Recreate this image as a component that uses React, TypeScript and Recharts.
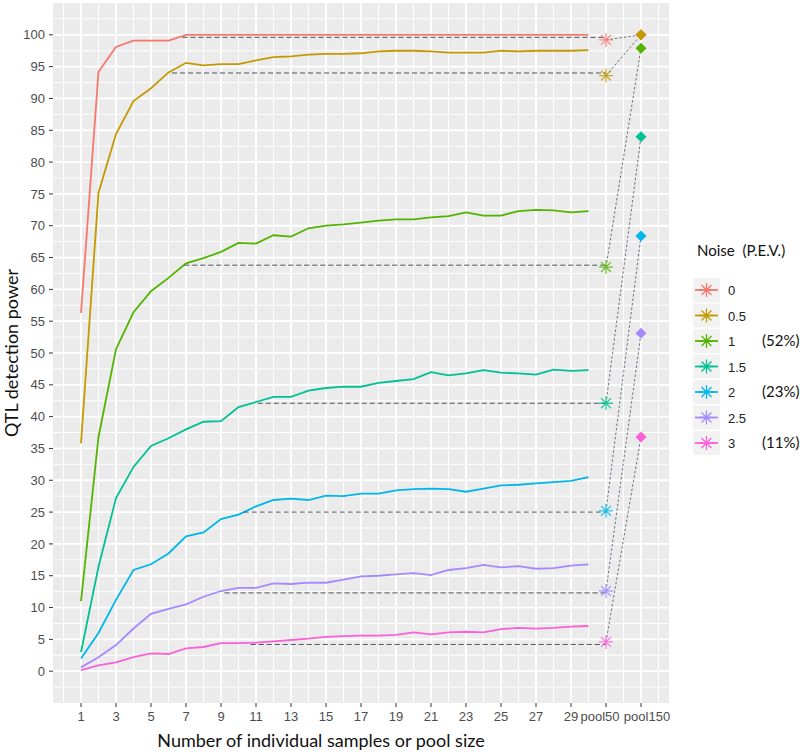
import {
  ComposedChart,
  Line,
  Scatter,
  XAxis,
  YAxis,
  CartesianGrid,
  ReferenceLine,
} from "recharts";

// sample size (number of individuals / pool size) on the x axis
const sampleSizes = [
  1, 2, 3, 4, 5, 6, 7, 8, 9, 10, 11, 12, 13, 14, 15, 16, 17, 18, 19, 20, 21,
  22, 23, 24, 25, 26, 27, 28, 29, 30,
];

const noiseLevels = ["0", "0.5", "1", "1.5", "2", "2.5", "3"];
const pevLabels = ["", "", "(52%)", "", "(23%)", "", "(11%)"];
const colors = ["#F8766D", "#C49A00", "#53B400", "#00C094", "#00B6EB", "#A58AFF", "#FB61D7"];

// QTL detection power per noise level
const power0 = [
  56.3, 94.2, 98.1, 99.1, 99.1, 99.1, 100, 100, 100, 100, 100, 100, 100, 100, 100,
  100, 100, 100, 100, 100, 100, 100, 100, 100, 100, 100, 100, 100, 100, 100,
];
const power05 = [
  35.8, 75.2, 84.4, 89.6, 91.6, 94.1, 95.6, 95.2, 95.4, 95.4, 96.0, 96.5, 96.6, 96.9, 97.0,
  97.0, 97.1, 97.4, 97.5, 97.5, 97.4, 97.2, 97.2, 97.2, 97.5, 97.4, 97.5, 97.5, 97.5, 97.6,
];
const power1 = [
  11.0, 36.8, 50.6, 56.4, 59.7, 61.8, 64.1, 64.9, 65.9, 67.3, 67.2, 68.5, 68.3, 69.6, 70.0,
  70.2, 70.5, 70.8, 71.0, 71.0, 71.3, 71.5, 72.1, 71.6, 71.6, 72.3, 72.5, 72.4, 72.1, 72.3,
];
const power15 = [
  3.0, 16.4, 27.2, 32.1, 35.4, 36.6, 38.0, 39.2, 39.3, 41.5, 42.3, 43.1, 43.1, 44.1, 44.5,
  44.7, 44.7, 45.3, 45.6, 45.9, 47.0, 46.5, 46.8, 47.3, 46.9, 46.8, 46.6, 47.4, 47.2, 47.3,
];
const power2 = [
  2.0, 6.0, 11.2, 15.9, 16.8, 18.5, 21.2, 21.8, 23.9, 24.6, 25.9, 26.9, 27.1, 26.9, 27.6,
  27.5, 27.9, 27.9, 28.4, 28.6, 28.7, 28.6, 28.2, 28.7, 29.2, 29.3, 29.5, 29.7, 29.9, 30.5,
];
const power25 = [
  0.6, 2.2, 4.1, 6.7, 9.0, 9.8, 10.5, 11.7, 12.6, 13.1, 13.1, 13.8, 13.7, 13.9, 13.9,
  14.4, 14.9, 15.0, 15.2, 15.4, 15.1, 15.9, 16.2, 16.7, 16.3, 16.5, 16.1, 16.2, 16.6, 16.8,
];
const power3 = [
  0.15, 0.9, 1.4, 2.2, 2.8, 2.7, 3.6, 3.8, 4.4, 4.4, 4.5, 4.7, 4.9, 5.1, 5.4,
  5.5, 5.6, 5.6, 5.7, 6.1, 5.8, 6.1, 6.2, 6.1, 6.6, 6.8, 6.7, 6.8, 7.0, 7.1,
];

// pooled designs
const pool50 = [99.2, 93.6, 63.5, 42.1, 25.2, 12.6, 4.6];
const pool150 = [100, 100, 97.9, 84.0, 68.4, 53.1, 36.8];
// where the individual curve reaches the pool50 power
const matchLevel = [99.6, 94.0, 63.8, 42.1, 25.0, 12.3, 4.2];
const matchSize = [6.8, 6.2, 6.9, 11.1, 10.3, 9.2, 10.7];

const POOL50_X = 31;
const POOL150_X = 33;

const xTicks = [1, 3, 5, 7, 9, 11, 13, 15, 17, 19, 21, 23, 25, 27, 29, 31, 33];
const xTickLabels = [
  "1", "3", "5", "7", "9", "11", "13", "15", "17", "19", "21", "23", "25", "27", "29",
  "pool50", "pool150",
];
const xMinor = [0, 2, 4, 6, 8, 10, 12, 14, 16, 18, 20, 22, 24, 26, 28, 30, 32, 34];
const yTicks = [0, 5, 10, 15, 20, 25, 30, 35, 40, 45, 50, 55, 60, 65, 70, 75, 80, 85, 90, 95, 100];
const yMinor = [
  -2.5, 2.5, 7.5, 12.5, 17.5, 22.5, 27.5, 32.5, 37.5, 42.5, 47.5, 52.5, 57.5, 62.5, 67.5,
  72.5, 77.5, 82.5, 87.5, 92.5, 97.5, 102.5,
];

const series = [power0, power05, power1, power15, power2, power25, power3];
const keys = ["s0", "s05", "s1", "s15", "s2", "s25", "s3"];

const rows = sampleSizes.map((x, i) => {
  const r: Record<string, number> = { x };
  keys.forEach((k, j) => (r[k] = series[j][i]));
  return r;
});

const starData = pool50.map((y, i) => ({ x: POOL50_X, y, idx: i }));
const diamondData = pool150.map((y, i) => ({ x: POOL150_X, y, idx: i }));

const tickFont = "Liberation Sans, Arial, sans-serif";
const tickStyle = { fill: "#4D4D4D", fontSize: 13, fontFamily: tickFont };
const titleFont = "Lato, 'Open Sans', sans-serif";

function starPath(cx: number, cy: number, r: number) {
  const d = r * 0.7071;
  return `M${cx - r},${cy}L${cx + r},${cy}M${cx},${cy - r}L${cx},${cy + r}` +
    `M${cx - d},${cy - d}L${cx + d},${cy + d}M${cx - d},${cy + d}L${cx + d},${cy - d}`;
}

const StarShape = (props: any) => {
  const { cx, cy, payload } = props;
  return (
    <path d={starPath(cx, cy, 7)} stroke={colors[payload.idx]} strokeWidth={1.3} strokeOpacity={0.8} fill="none" />
  );
};

const DiamondShape = (props: any) => {
  const { cx, cy, payload } = props;
  const r = 5.5;
  return (
    <polygon
      points={`${cx},${cy - r} ${cx + r},${cy} ${cx},${cy + r} ${cx - r},${cy}`}
      fill={colors[payload.idx]}
    />
  );
};

// the last labels sit a bit apart so they don't run into each other
const XTick = (props: any) => {
  const { x, y, payload } = props;
  const i = xTicks.indexOf(payload.value);
  const label = xTickLabels[i];
  const nudge = label === "pool50" ? -6 : label === "pool150" ? 6 : 0;
  return (
    <text x={x + nudge} y={y} dy="0.71em" textAnchor="middle" fill="#4D4D4D" fontSize={13} fontFamily={tickFont}>
      {label}
    </text>
  );
};

export default function App() {
  return (
    <div style={{ position: "absolute", left: 0, top: 0, width: 800, height: 754, background: "#fff" }}>
      <ComposedChart width={800} height={754} data={rows} margin={{ top: 3, right: 131, bottom: 0, left: 0 }}>
        <CartesianGrid fill="#EBEBEB" stroke="#fff" strokeWidth={0.9} horizontalValues={yMinor} verticalValues={xMinor} />
        <CartesianGrid stroke="#fff" strokeWidth={1.8} horizontalValues={yTicks} verticalValues={xTicks} />
        <XAxis
          type="number"
          dataKey="x"
          domain={[-0.6, 34.6]}
          ticks={xTicks}
          interval={0}
          axisLine={false}
          tickLine={{ stroke: "#333" }}
          tickSize={4}
          tickMargin={5}
          height={51}
          tick={<XTick />}
        />
        <YAxis
          type="number"
          domain={[-5, 105]}
          ticks={yTicks}
          interval={0}
          axisLine={false}
          tickLine={{ stroke: "#333" }}
          tickSize={4}
          tickMargin={4}
          width={53}
          tick={tickStyle}
        />
        {keys.map((k, i) => (
          <Line
            key={k}
            dataKey={k}
            stroke={colors[i]}
            strokeWidth={1.8}
            dot={false}
            activeDot={false}
            isAnimationActive={false}
          />
        ))}
        {pool50.map((v, i) => (
          <ReferenceLine
            key={"h" + i}
            segment={[
              { x: matchSize[i], y: matchLevel[i] },
              { x: POOL50_X, y: matchLevel[i] },
            ]}
            stroke="#4A5260"
            strokeWidth={1}
            strokeDasharray="5 3"
          />
        ))}
        {pool50.map((v, i) => (
          <ReferenceLine
            key={"s" + i}
            segment={[
              { x: POOL50_X, y: v },
              { x: POOL150_X, y: pool150[i] },
            ]}
            stroke="#4A5260"
            strokeWidth={0.8}
            strokeDasharray="2.5 2"
          />
        ))}
        <Scatter data={starData} dataKey="y" shape={StarShape} isAnimationActive={false} />
        <Scatter data={diamondData} dataKey="y" shape={DiamondShape} isAnimationActive={false} />
      </ComposedChart>

      <svg width={800} height={754} style={{ position: "absolute", left: 0, top: 0, pointerEvents: "none" }}>
        <text
          x={0}
          y={0}
          transform="translate(18,353) rotate(-90)"
          textAnchor="middle"
          fontFamily={titleFont}
          fontSize={18}
          fill="#111"
        >
          QTL detection power
        </text>
        <text x={321} y={747} textAnchor="middle" fontFamily={titleFont} fontSize={18} fill="#111">
          Number of individual samples or pool size
        </text>

        <text x={697} y={256} fontFamily={titleFont} fontSize={15} fill="#111" xmlSpace="preserve">
          Noise  (P.E.V.)
        </text>
        {noiseLevels.map((lab, i) => {
          const cy = 290 + i * 25.5;
          return (
            <g key={lab}>
              <rect x={693} y={cy - 12} width={27} height={24} fill="#F2F2F2" />
              <line x1={695} x2={718} y1={cy} y2={cy} stroke={colors[i]} strokeWidth={1.8} />
              <path d={starPath(706.5, cy, 7)} stroke={colors[i]} strokeWidth={1.3} fill="none" />
              <text x={728} y={cy + 5} fontFamily={tickFont} fontSize={13} fill="#222">
                {lab}
              </text>
              {pevLabels[i] && (
                <text x={762} y={cy + 5} fontFamily={titleFont} fontSize={15} fill="#111">
                  {pevLabels[i]}
                </text>
              )}
            </g>
          );
        })}
      </svg>
    </div>
  );
}
